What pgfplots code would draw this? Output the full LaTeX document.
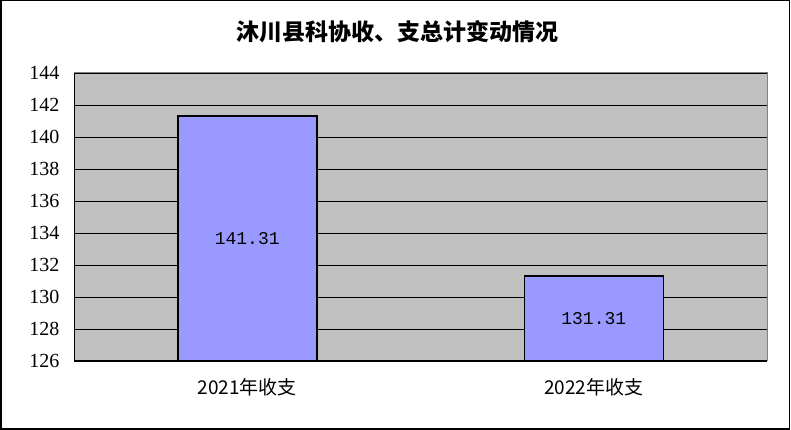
\documentclass[border=0pt]{standalone}
\usepackage{fontspec}
\setmainfont{Liberation Serif}
\newfontfamily\cjk{Noto Sans CJK SC}
\newfontfamily\mono{Liberation Mono}
\usepackage{pgfplots}
\pgfplotsset{compat=1.18}
\definecolor{plotgray}{HTML}{C0C0C0}
\definecolor{barblue}{HTML}{9999FF}
\definecolor{edgegray}{HTML}{808080}
\begin{document}
\begin{tikzpicture}[x=1pt,y=1pt]
  \useasboundingbox (0,0) rectangle (791,430);
  \draw[black, line width=1.5pt] (1,0.75) rectangle (789.5,429.25);
  \node[font=\cjk\bfseries\fontsize{23}{26}\selectfont] at (397,398) {沐川县科协收、支总计变动情况};
  \begin{axis}[
    at={(74pt,69pt)}, anchor=south west,
    width=693pt, height=288pt, scale only axis,
    xmin=-0.5, xmax=1.5,
    ymin=126, ymax=144, ytick distance=2,
    xtick={0,1},
    xticklabels={2021年收支,2022年收支},
    xtick style={draw=none},
    extra x ticks={0.5}, extra x tick labels={},
    extra x tick style={major tick length=5pt, tick align=inside, tick style={black, draw=black}},
    ytick style={draw=none},
    ymajorgrids, grid style={black, line width=0.8pt},
    axis background/.style={fill=plotgray},
    axis line style={edgegray, line width=1pt},
    /pgf/number format/assume math mode=true,
    yticklabel={\pgfmathprintnumber{\tick}},
    yticklabel style={font=\rmfamily\fontsize{20}{22}\selectfont, xshift=-11pt},
    xticklabel style={font=\cjk\fontsize{19}{21}\selectfont, yshift=-14pt},
    after end axis/.code={
      \draw[black, line width=1pt] (rel axis cs:0,1) -- (rel axis cs:0,0) -- (rel axis cs:1,0);
    },
  ]
    \addplot[ybar, bar width=139pt, fill=barblue, draw=black, line width=1.5pt]
      coordinates {(0,141.31) (1,131.31)};
    \addplot[draw=none, mark=none, nodes near coords, point meta=explicit symbolic,
      every node near coord/.append style={anchor=center, font=\mono\fontsize{18}{20}\selectfont}]
      coordinates {(0,133.655)[141.31] (1,128.655)[131.31]};
  \end{axis}
\end{tikzpicture}
\end{document}
